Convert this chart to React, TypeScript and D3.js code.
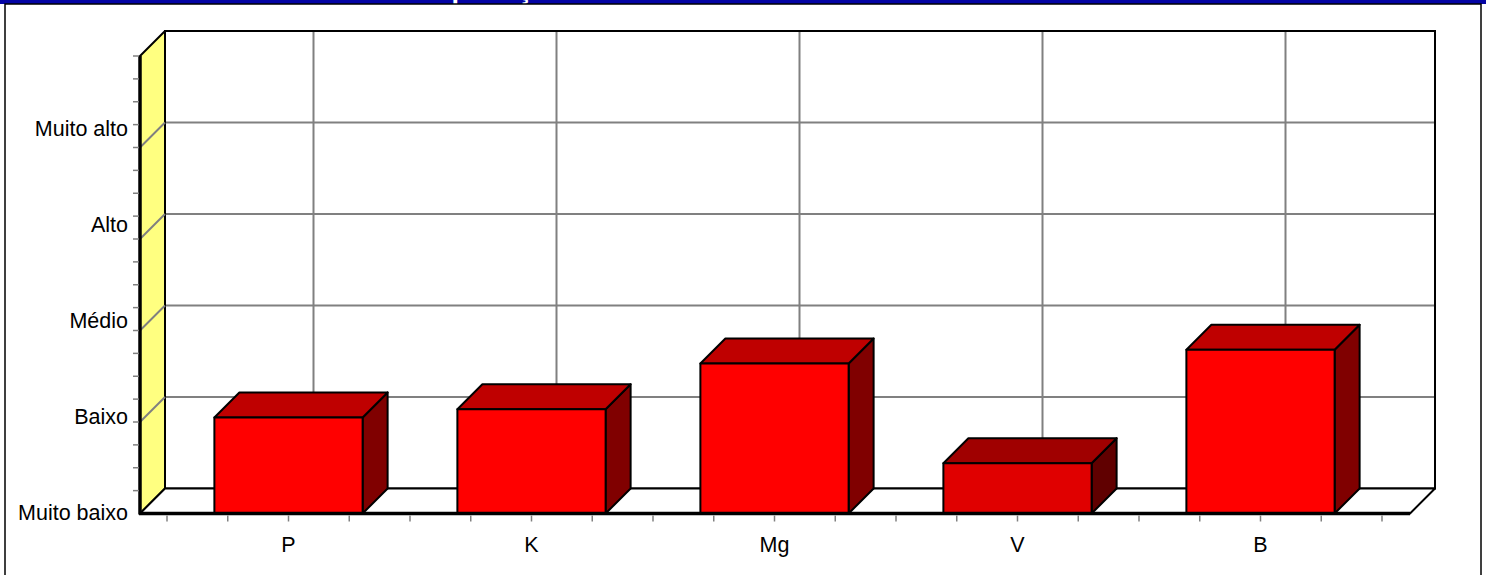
import React, { useEffect, useRef } from 'react';
import * as d3 from 'd3';

const categories = ['P', 'K', 'Mg', 'V', 'B'];
const values = [1.05, 1.14, 1.64, 0.55, 1.79];
const levelLabels = ['Muito baixo', 'Baixo', 'Médio', 'Alto', 'Muito alto'];
const title = 'Interpretação da análise de solo';

// face colours per bar: [front, top, side]
const faceColors: Record<string, string[]> = {
  default: ['#FF0000', '#BF0000', '#800000'],
  V: ['#E00000', '#A00000', '#600000'],
};

const W = 1486;
const H = 575;
const D = 25; // 3D depth offset

const App: React.FC = () => {
  const svgRef = useRef<SVGSVGElement | null>(null);

  useEffect(() => {
    if (!svgRef.current) return;
    const svg = d3.select(svgRef.current);
    svg.selectAll('*').remove();

    const y = d3.scaleLinear().domain([0, 5]).range([513.5, 56]);
    const x = d3.scaleBand<string>().domain(categories).range([167, 1382]);
    const labelY = d3.scalePoint<string>().domain(levelLabels).range([520, 136]);

    const floorL = 140;
    const floorR = 1410;
    const y0 = y(0);
    const yTop = y(5);

    // frame + title band (title sits above the visible area, only its descenders show)
    svg.append('rect').attr('x', 0).attr('y', 0).attr('width', W).attr('height', 4).attr('fill', '#0404A4');
    svg.append('clipPath').attr('id', 'band').append('rect').attr('x', 0).attr('y', 0).attr('width', W).attr('height', 4);
    svg.append('text')
      .attr('clip-path', 'url(#band)')
      .attr('x', 393).attr('y', -2.5)
      .attr('font-family', 'Arial, Liberation Sans, sans-serif')
      .attr('font-weight', 'bold')
      .attr('font-size', 27)
      .attr('fill', '#fff')
      .text(title);
    svg.append('rect').attr('x', 5).attr('y', 4).attr('width', 1476).attr('height', 580)
      .attr('fill', 'none').attr('stroke', '#000').attr('stroke-width', 1.5);

    // back wall
    svg.append('rect')
      .attr('x', floorL + D).attr('y', yTop - D)
      .attr('width', floorR - floorL).attr('height', y0 - yTop)
      .attr('fill', '#fff').attr('stroke', '#000').attr('stroke-width', 2);

    // vertical grid on back wall
    svg.append('g').selectAll('line').data(categories).join('line')
      .attr('x1', d => (x(d) as number) + x.bandwidth() / 2 + D)
      .attr('x2', d => (x(d) as number) + x.bandwidth() / 2 + D)
      .attr('y1', yTop - D + 1).attr('y2', y0 - D - 1)
      .attr('stroke', '#808080').attr('stroke-width', 2);

    const levels = [1, 2, 3, 4];
    svg.append('g').selectAll('line').data(levels).join('line')
      .attr('x1', floorL + D).attr('x2', floorR + D - 1)
      .attr('y1', d => y(d) - D).attr('y2', d => y(d) - D)
      .attr('stroke', '#808080').attr('stroke-width', 2);

    // left wall
    svg.append('polygon')
      .attr('points', [[floorL, y0], [floorL, yTop], [floorL + D, yTop - D], [floorL + D, y0 - D]].map(p => p.join(',')).join(' '))
      .attr('fill', '#FFFF80').attr('stroke', '#000').attr('stroke-width', 2).attr('stroke-linejoin', 'round');

    svg.append('g').selectAll('line').data(levels).join('line')
      .attr('x1', floorL).attr('x2', floorL + D)
      .attr('y1', d => y(d)).attr('y2', d => y(d) - D)
      .attr('stroke', '#808080').attr('stroke-width', 2);

    // floor
    svg.append('polygon')
      .attr('points', [[floorL, y0], [floorL + D, y0 - D], [floorR + D, y0 - D], [floorR, y0]].map(p => p.join(',')).join(' '))
      .attr('fill', '#fff').attr('stroke', '#000').attr('stroke-width', 2).attr('stroke-linejoin', 'round');

    // bars
    const bw = x.bandwidth() * 0.61;
    const bars = svg.append('g').selectAll('g').data(categories).join('g');
    const bx0 = (d: string) => (x(d) as number) + (x.bandwidth() - bw) / 2;
    const col = (d: string, i: number) => (faceColors[d] || faceColors.default)[i];
    const pts = (arr: number[][]) => arr.map(p => p.join(',')).join(' ');

    bars.append('polygon')
      .attr('points', (d, i) => {
        const a = bx0(d) + bw, t = y(values[i]);
        return pts([[a, t], [a + D, t - D], [a + D, y0 - D], [a, y0]]);
      })
      .attr('fill', d => col(d, 2));
    bars.append('polygon')
      .attr('points', (d, i) => {
        const a = bx0(d), t = y(values[i]);
        return pts([[a, t], [a + D, t - D], [a + bw + D, t - D], [a + bw, t]]);
      })
      .attr('fill', d => col(d, 1));
    bars.append('rect')
      .attr('x', d => bx0(d)).attr('width', bw)
      .attr('y', (d, i) => y(values[i])).attr('height', (d, i) => y0 - y(values[i]))
      .attr('fill', d => col(d, 0));
    bars.selectAll('polygon, rect')
      .attr('stroke', '#000').attr('stroke-width', 2).attr('stroke-linejoin', 'round');

    // thick front axis lines
    svg.append('line').attr('x1', floorL).attr('x2', floorL).attr('y1', yTop).attr('y2', y0 + 1)
      .attr('stroke', '#000').attr('stroke-width', 3.5);
    svg.append('line').attr('x1', floorL - 1).attr('x2', floorR).attr('y1', y0).attr('y2', y0)
      .attr('stroke', '#000').attr('stroke-width', 3.5);

    // y minor ticks
    svg.append('g').selectAll('line').data(d3.range(1, 21).map(i => i * 0.25)).join('line')
      .attr('x1', floorL - 7).attr('x2', floorL - 1)
      .attr('y1', d => y(d)).attr('y2', d => y(d))
      .attr('stroke', '#808080').attr('stroke-width', 1.5);

    // x ticks every quarter band
    const [r0, r1] = x.range();
    const nq = categories.length * 4;
    svg.append('g').selectAll('line').data(d3.range(0, nq + 1)).join('line')
      .attr('x1', i => r0 + (i * (r1 - r0)) / nq)
      .attr('x2', i => r0 + (i * (r1 - r0)) / nq)
      .attr('y1', y0 + 2).attr('y2', y0 + 8)
      .attr('stroke', '#808080').attr('stroke-width', 1.5);

    const font = 'Arial, Liberation Sans, sans-serif';
    svg.append('g').selectAll('text').data(levelLabels).join('text')
      .attr('x', 128).attr('y', d => labelY(d) as number)
      .attr('text-anchor', 'end')
      .attr('font-family', font).attr('font-size', 21.5).attr('fill', '#000')
      .text(d => d);

    svg.append('g').selectAll('text').data(categories).join('text')
      .attr('x', d => (x(d) as number) + x.bandwidth() / 2).attr('y', 552)
      .attr('text-anchor', 'middle')
      .attr('font-family', font).attr('font-size', 21.5).attr('fill', '#000')
      .text(d => d);
  }, []);

  return (
    <svg ref={svgRef} width={W} height={H}
      style={{ position: 'absolute', left: 0, top: 0, background: '#fff' }} />
  );
};

export default App;
